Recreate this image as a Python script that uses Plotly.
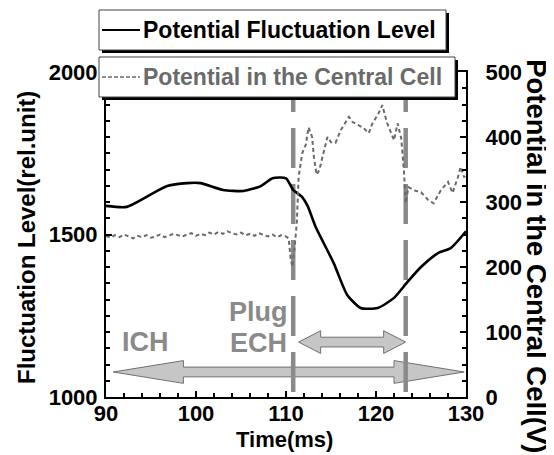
import plotly.graph_objects as go

# ---------------- data ----------------
fluct_time = [90, 92.3, 94.9, 96.8, 99, 100.5, 103, 105.3, 107.2, 108.5, 110,
              110.8, 111.8, 112.4, 113.3, 115.3, 116.8, 118.3, 120.2, 122,
              123.5, 125, 126.9, 128.3, 130]
fluct_level = [1588, 1585, 1622, 1649, 1658, 1658, 1637, 1634, 1649, 1673, 1673,
               1637, 1615, 1588, 1523, 1412, 1314, 1274, 1274, 1305,
               1354, 1400, 1443, 1458, 1510]

pot_time = [90 + 0.5 * i for i in range(41)] + [
    110.3, 110.5, 110.7, 110.9, 111.2, 111.4, 111.8, 112.2, 112.5, 112.9,
    113.1, 113.4, 113.7, 114.2, 114.6, 115.0, 115.5, 116.1, 116.6, 117.0,
    117.4, 118.0, 118.6, 119.2, 119.6, 120.2, 120.7, 121.2, 121.6, 122.0,
    122.4, 122.8, 123.1, 123.3, 123.6, 124.2, 125.0, 125.8, 126.4, 127.2,
    128.0, 128.5, 129.1, 129.4, 129.8, 130.0]
pot_value = [248, 245, 249, 246, 250, 247, 244, 248, 246, 249, 245, 247, 250,
             246, 248, 251, 249, 247, 250, 252, 248, 251, 249, 253, 250, 254,
             251, 255, 252, 250, 253, 249, 251, 248, 252, 249, 247, 250, 246,
             249, 247] + [
    244, 215, 200, 222, 268, 338, 375, 388, 415, 400,
    369, 342, 349, 380, 400, 392, 391, 411, 421, 431,
    423, 418, 414, 406, 421, 434, 449, 423, 408, 395,
    421, 398, 349, 298, 323, 318, 315, 303, 298, 318,
    331, 314, 338, 354, 338, 345]

phase_marks = [110.8, 123.3]           # vertical dashed markers (ms)
ich_span = [90.8, 129.8]               # ICH heating period
ech_span = [111.4, 123.3]              # plug ECH period
x_ticks = [90, 100, 110, 120, 130]
y1_ticks = [1000, 1500, 2000]
y2_ticks = [0, 100, 200, 300, 400, 500]

# ---------------- figure ----------------
W, H = 554, 455
OFF = 8                      # page body margin offset
L, T = 106 - OFF, 72 - OFF
PW, PH = 360, 325
R = W - L - PW
B = H - T - PH

def px(xs):
    return (xs - OFF - L) / PW

def py(ys):
    return (T + PH - (ys - OFF)) / PH

FONT = "Liberation Sans, Arial, sans-serif"
GRAY = "#8a8a8a"
DGRAY = "#6a6a6a"

fig = go.Figure()
fig.add_trace(go.Scatter(x=fluct_time, y=fluct_level, mode="lines",
                         line=dict(color="black", width=2.6, shape="spline", smoothing=0.6),
                         name="Potential Fluctuation Level", yaxis="y"))
fig.add_trace(go.Scatter(x=pot_time, y=pot_value, mode="lines",
                         line=dict(color=DGRAY, width=2, dash="4px,3px"),
                         name="Potential in the Central Cell", yaxis="y2"))

shapes = []

def arrow_path(t0, t1, yc, hl, hh, bh):
    pts = [(t0, yc), (t0 + hl, yc + hh), (t0 + hl, yc + bh), (t1 - hl, yc + bh),
           (t1 - hl, yc + hh), (t1, yc), (t1 - hl, yc - hh), (t1 - hl, yc - bh),
           (t0 + hl, yc - bh), (t0 + hl, yc - hh)]
    return "M " + " L ".join(f"{a},{b}" for a, b in pts) + " Z"

for span, yc, hl in [(ich_span, 1077, 7.8), (ech_span, 1169, 2.45)]:
    shapes.append(dict(type="path", xref="x", yref="y",
                       path=arrow_path(span[0], span[1], yc, hl, 35, 15),
                       fillcolor="#c6c6c6", line=dict(color="#707070", width=1),
                       layer="below"))

for t in phase_marks:
    shapes.append(dict(type="line", xref="x", yref="y", x0=t, x1=t, y0=2000, y1=1000,
                       line=dict(color=GRAY, width=4.5, dash="40px,16px"), layer="below"))

# legend boxes (with shadow)
for (x0, y0, x1, y1) in [(99, 10, 446, 50), (99, 57, 455, 97)]:
    shapes.append(dict(type="rect", xref="paper", yref="paper",
                       x0=px(x0 + 3), x1=px(x1 + 3), y0=py(y0 + 3), y1=py(y1 + 3),
                       fillcolor="black", line=dict(width=0), layer="above"))
    shapes.append(dict(type="rect", xref="paper", yref="paper",
                       x0=px(x0), x1=px(x1), y0=py(y0), y1=py(y1),
                       fillcolor="white", line=dict(color="#444", width=1), layer="above"))
shapes.append(dict(type="line", xref="paper", yref="paper", x0=px(102), x1=px(140),
                   y0=py(30), y1=py(30), line=dict(color="black", width=2), layer="above"))
shapes.append(dict(type="line", xref="paper", yref="paper", x0=px(102), x1=px(140),
                   y0=py(77), y1=py(77), line=dict(color=DGRAY, width=1.5, dash="4px,2px"),
                   layer="above"))

annotations = [
    dict(text="Potential Fluctuation Level", xref="paper", yref="paper",
         x=px(141), y=py(30), xanchor="left", yanchor="middle", showarrow=False,
         font=dict(family=FONT, size=23, color="black", weight="bold")),
    dict(text="Potential in the Central Cell", xref="paper", yref="paper",
         x=px(141), y=py(77), xanchor="left", yanchor="middle", showarrow=False,
         font=dict(family=FONT, size=23, color=DGRAY, weight="bold")),
    dict(text="Fluctuation Level(rel.unit)", xref="paper", yref="paper",
         x=px(26), y=py(238), textangle=-90, showarrow=False,
         xanchor="center", yanchor="middle",
         font=dict(family=FONT, size=24, color="black", weight="bold")),
    dict(text="Potential in the Central Cell(V)", xref="paper", yref="paper",
         x=px(537), y=py(59 + 14.34 * 27.5 / 2), textangle=90, showarrow=False,
         xanchor="center", yanchor="middle",
         font=dict(family=FONT, size=27.5, color="black", weight="bold")),
    dict(text="Time(ms)", xref="paper", yref="paper", x=px(284), y=py(439),
         showarrow=False, xanchor="center", yanchor="middle",
         font=dict(family=FONT, size=22, color="black", weight="bold")),
    dict(text="ICH", xref="x", yref="y", x=94.4, y=1169, showarrow=False,
         font=dict(family=FONT, size=27, color=GRAY, weight="bold")),
    dict(text="Plug", xref="x", yref="y", x=106.9, y=1262, showarrow=False,
         font=dict(family=FONT, size=27, color=GRAY, weight="bold")),
    dict(text="ECH", xref="x", yref="y", x=106.9, y=1166, showarrow=False,
         font=dict(family=FONT, size=27, color=GRAY, weight="bold")),
]

tickfont = dict(family=FONT, size=22, color="black", weight="bold")
fig.update_layout(
    width=W, height=H,
    margin=dict(l=L, r=R, t=T, b=B, autoexpand=False),
    paper_bgcolor="white", plot_bgcolor="white",
    showlegend=False,
    shapes=shapes, annotations=annotations,
    xaxis=dict(range=[90, 130], tickvals=x_ticks, ticks="inside", ticklen=6,
               tickwidth=2, tickcolor="black", showline=True, linecolor="black",
               linewidth=2, mirror=True, showgrid=False, zeroline=False,
               tickfont=tickfont, ticklabelstandoff=-4,
               minor=dict(dtick=2, ticks="inside", ticklen=4, tickwidth=2,
                          tickcolor="black", showgrid=False)),
    yaxis=dict(range=[1000, 2000], tickvals=y1_ticks, ticks="inside", ticklen=6,
               tickwidth=2, tickcolor="black", showline=True, linecolor="black",
               linewidth=2, showgrid=False, zeroline=False, tickfont=tickfont,
               ticklabelstandoff=2,
               minor=dict(dtick=50, ticks="inside", ticklen=4, tickwidth=2,
                          tickcolor="black", showgrid=False)),
    yaxis2=dict(range=[0, 500], tickvals=y2_ticks, overlaying="y", side="right",
                ticks="inside", ticklen=6, tickwidth=2, tickcolor="black",
                showline=True, linecolor="black", linewidth=2, showgrid=False,
                zeroline=False, tickfont=tickfont, ticklabelstandoff=13,
                minor=dict(dtick=25, ticks="inside", ticklen=4, tickwidth=2,
                           tickcolor="black", showgrid=False)),
)

fig.write_html("out.html")
